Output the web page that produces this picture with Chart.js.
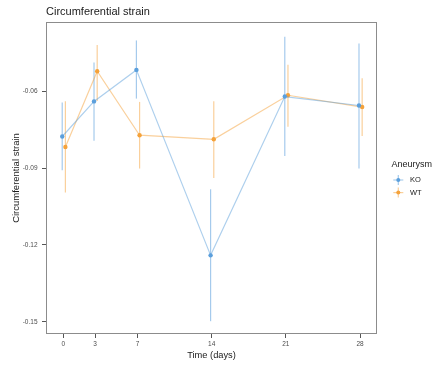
<!DOCTYPE html>
<html>
<head>
<meta charset="utf-8">
<script src="https://cdn.jsdelivr.net/npm/chart.js@4"></script>
<style>
html,body{margin:0;padding:0;background:#fff;}
#wrap{width:437px;height:365px;position:relative;}
</style>
</head>
<body>
<div id="wrap"><canvas id="c" width="437" height="365"></canvas></div>
<script>
// ---- data ----
const days = [0, 3, 7, 14, 21, 28];
const xTicks = [0, 3, 7, 14, 21, 28];
const yTicks = [-0.06, -0.09, -0.12, -0.15];
const yTickLabels = ['-0.06', '-0.09', '-0.12', '-0.15'];
const koMean = [-0.0777, -0.0640, -0.0517, -0.1241, -0.0621, -0.0656];
const koLow  = [-0.0909, -0.0794, -0.0629, -0.1498, -0.0853, -0.0902];
const koHigh = [-0.0644, -0.0488, -0.0402, -0.0983, -0.0388, -0.0414];
const wtMean = [-0.0818, -0.0522, -0.0772, -0.0788, -0.0616, -0.0662];
const wtLow  = [-0.0996, -0.0638, -0.0902, -0.0939, -0.0739, -0.0775];
const wtHigh = [-0.0639, -0.0420, -0.0642, -0.0639, -0.0497, -0.0550];
const seriesNames = ['KO', 'WT'];
const titleText = 'Circumferential strain';
const xTitle = 'Time (days)';
const yTitle = 'Circumferential strain';
const legendTitle = 'Aneurysm';

const koColor = '#5b9fdc';
const wtColor = '#f5a23a';
const koLine = 'rgba(91,159,220,0.5)';
const wtLine = 'rgba(245,162,58,0.5)';
const koErr = 'rgba(91,159,220,0.55)';
const wtErr = 'rgba(245,162,58,0.5)';

const dodge = [-0.1, 0.2];
function build(mean, low, high, off) {
  return days.map((d, i) => ({x: d + off, y: mean[i], lo: low[i], hi: high[i]}));
}

const errorBars = {
  id: 'errorBars',
  beforeDatasetsDraw(chart) {
    const ctx = chart.ctx;
    const xs = chart.scales.x, ys = chart.scales.y;
    chart.data.datasets.forEach(ds => {
      ctx.save();
      ctx.strokeStyle = ds.errColor;
      ctx.lineWidth = 1.2;
      ds.data.forEach(p => {
        const px = xs.getPixelForValue(p.x);
        ctx.beginPath();
        ctx.moveTo(px, ys.getPixelForValue(p.lo));
        ctx.lineTo(px, ys.getPixelForValue(p.hi));
        ctx.stroke();
      });
      ctx.restore();
    });
  },
  afterDraw(chart) {
    const ctx = chart.ctx;
    const a = chart.chartArea;
    ctx.save();
    ctx.strokeStyle = '#8c8c8c';
    ctx.lineWidth = 1;
    ctx.strokeRect(a.left + 0.5, a.top + 0.5, a.right - a.left - 1, a.bottom - a.top - 1);
    // title
    ctx.fillStyle = '#1a1a1a';
    ctx.font = '11px "Liberation Sans", Arial, sans-serif';
    ctx.textBaseline = 'middle';
    ctx.textAlign = 'left';
    ctx.fillText(titleText, a.left, 12);
    // legend
    ctx.font = '9px "Liberation Sans", Arial, sans-serif';
    ctx.fillStyle = '#1a1a1a';
    ctx.fillText(legendTitle, 391.5, 165);
    const items = [[koColor, koLine, koErr], [wtColor, wtLine, wtErr]];
    items.forEach((it, i) => {
      const cy = 180 + i * 12.6, cx = 398.3;
      ctx.strokeStyle = it[1];
      ctx.lineWidth = 1.2;
      ctx.beginPath(); ctx.moveTo(cx - 5, cy); ctx.lineTo(cx + 5, cy); ctx.stroke();
      ctx.strokeStyle = it[2];
      ctx.beginPath(); ctx.moveTo(cx, cy - 5); ctx.lineTo(cx, cy + 5); ctx.stroke();
      ctx.fillStyle = it[0];
      ctx.beginPath(); ctx.arc(cx, cy, 2, 0, Math.PI * 2); ctx.fill();
      ctx.fillStyle = '#1a1a1a';
      ctx.font = '7.5px "Liberation Sans", Arial, sans-serif';
      ctx.fillText(seriesNames[i], 410, cy);
    });
    ctx.restore();
  }
};

new Chart(document.getElementById('c'), {
  type: 'line',
  data: {
    datasets: [
      {label: seriesNames[0], data: build(koMean, koLow, koHigh, dodge[0]), borderColor: koLine,
       backgroundColor: koColor, pointBackgroundColor: koColor, pointBorderWidth: 0, pointRadius: 2.2,
       borderWidth: 1.2, tension: 0, errColor: koErr},
      {label: seriesNames[1], data: build(wtMean, wtLow, wtHigh, dodge[1]), borderColor: wtLine,
       backgroundColor: wtColor, pointBackgroundColor: wtColor, pointBorderWidth: 0, pointRadius: 2.2,
       borderWidth: 1.2, tension: 0, errColor: wtErr}
    ]
  },
  options: {
    responsive: false,
    animation: false,
    devicePixelRatio: 1,
    layout: {padding: {top: 22, right: 60, left: 0, bottom: 0}},
    plugins: {legend: {display: false}, title: {display: false}, tooltip: {enabled: false}},
    scales: {
      x: {
        type: 'linear', min: -1.63, max: 29.6,
        afterBuildTicks: s => { s.ticks = xTicks.map(v => ({value: v})); },
        afterFit: s => { s.height = 31; },
        grid: {display: true, drawOnChartArea: false, drawTicks: true, tickLength: 4, color: '#555'},
        border: {display: false},
        ticks: {color: '#4d4d4d', font: {size: 6.5, family: '"Liberation Sans", Arial'}, padding: 2, maxRotation: 0,
                callback: v => String(v)},
        title: {display: true, text: xTitle, color: '#1a1a1a', font: {size: 9.3, family: '"Liberation Sans", Arial'}, padding: {top: 0, bottom: 3.5}}
      },
      y: {
        type: 'linear', min: -0.1548, max: -0.033,
        afterBuildTicks: s => { s.ticks = yTicks.map(v => ({value: v})); },
        afterFit: s => { s.width = 46; },
        grid: {display: true, drawOnChartArea: false, drawTicks: true, tickLength: 4, color: '#555'},
        border: {display: false},
        ticks: {color: '#4d4d4d', font: {size: 6.5, family: '"Liberation Sans", Arial'}, padding: 4.5,
                callback: (v) => { const i = yTicks.findIndex(t => Math.abs(t - v) < 1e-9); return i >= 0 ? yTickLabels[i] : ''; }},
        title: {display: true, text: yTitle, color: '#1a1a1a', font: {size: 9.5, family: '"Liberation Sans", Arial'}, padding: {top: 11, bottom: 0}}
      }
    }
  },
  plugins: [errorBars]
});
</script>
</body>
</html>
